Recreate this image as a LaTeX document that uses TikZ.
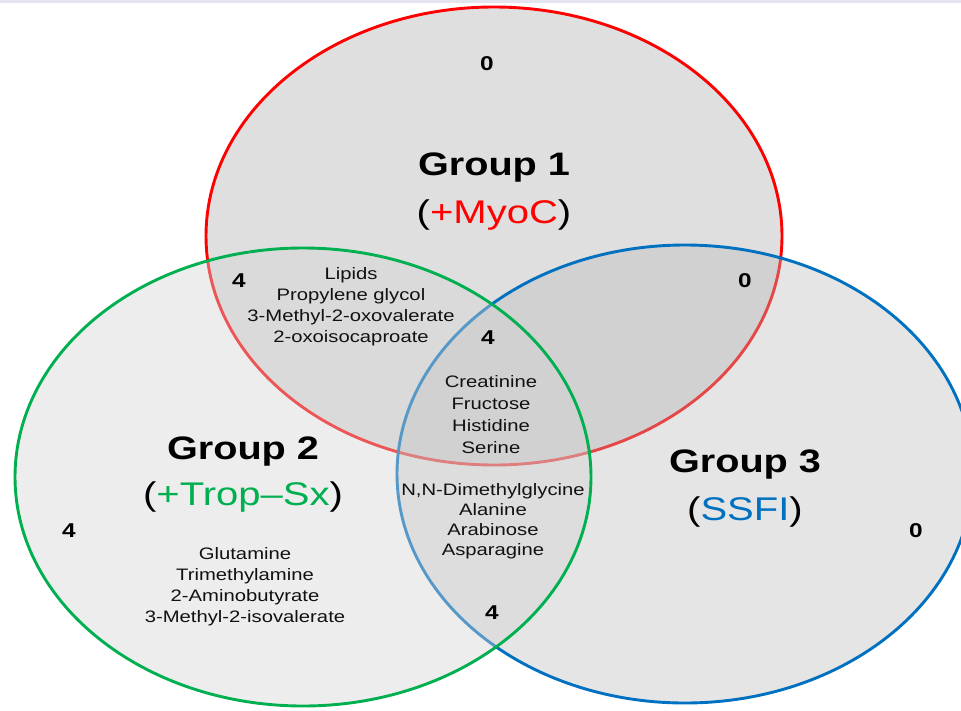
\documentclass[tikz,border=0pt]{standalone}
\usepackage{fontspec}
\setmainfont{Liberation Sans}[FakeStretch=1.22]
\usetikzlibrary{shapes.geometric}
\definecolor{setred}{HTML}{FF0000}
\definecolor{setgreen}{HTML}{00B050}
\definecolor{setblue}{HTML}{0070C0}
\definecolor{fillred}{HTML}{DFDFDF}
\definecolor{fillgreen}{HTML}{D3D3D3}
\definecolor{fillblue}{HTML}{BCBCBC}
\definecolor{topband}{HTML}{E4E4EE}
\definecolor{itemtext}{HTML}{111111}
\begin{document}
\begin{tikzpicture}[x=1pt,y=-1pt,
  setshape/.style={ellipse, minimum width=576pt, minimum height=458pt, inner sep=0pt, line width=2.9pt},
  grouplabel/.style={font=\fontsize{32.5}{36}\selectfont\bfseries, inner sep=0pt},
  grouptag/.style={font=\fontsize{32.8}{36}\selectfont, inner sep=0pt},
  count/.style={font=\fontsize{20}{22}\selectfont\bfseries, inner sep=0pt},
  items/.style={align=center, font=\fontsize{16.6}{21}\selectfont, text=itemtext, inner sep=0pt}]
\fill[white] (0,0) rectangle (961,710);
\useasboundingbox (0,0) rectangle (961,710);
\fill[topband] (0,0) rectangle (961,3);
% sets
\node[setshape, draw=setred, fill=fillred] (red) at (494,236) {};
\node[setshape, draw=setblue, fill=fillblue, fill opacity=0.375] (blue) at (685,474) {};
\node[setshape, draw=setgreen, fill=fillgreen, fill opacity=0.406] (green) at (303,477) {};
% group labels
\node[grouplabel] (g1) at (494,168) {Group 1};
\node[grouptag] (t1) at (494,215) {(\textcolor{setred}{+MyoC})};
\node[grouplabel] (g2) at (243,452) {Group 2};
\node[grouptag] (t2) at (243,497) {(\textcolor{setgreen}{+Trop–Sx})};
\node[grouplabel] (g3) at (745,465) {Group 3};
\node[grouptag] (t3) at (745,512) {(\textcolor{setblue}{SSFI})};
% counts
\node[count] (n1) at (487,64) {0};
\node[count] (n12) at (239,281) {4};
\node[count] (n13) at (745,281) {0};
\node[count] (n123) at (488,338) {4};
\node[count] (n2) at (69,531) {4};
\node[count] (n3) at (916,531) {0};
\node[count] (n23) at (492,613) {4};
% metabolites
\node[items] (m12) at (351,307) {Lipids\\Propylene glycol\\3-Methyl-2-oxovalerate\\2-oxoisocaproate};
\node[items, font=\fontsize{16.6}{22}\selectfont] (m123) at (491,415) {Creatinine\\Fructose\\Histidine\\Serine};
\node[items, font=\fontsize{16.6}{20}\selectfont] (m23) at (493,521) {N,N-Dimethylglycine\\Alanine\\Arabinose\\Asparagine};
\node[items] (m2) at (245,587) {Glutamine\\Trimethylamine\\2-Aminobutyrate\\3-Methyl-2-isovalerate};
\end{tikzpicture}
\end{document}
